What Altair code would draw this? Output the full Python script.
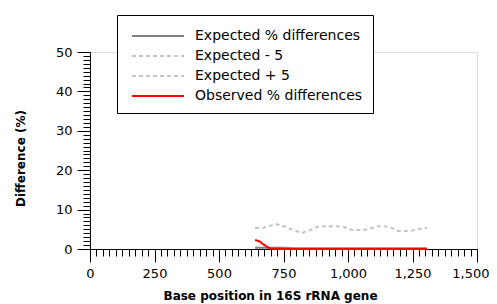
import altair as alt
import pandas as pd

series_names = ["Expected % differences", "Expected - 5", "Expected + 5", "Observed % differences"]
series_colors = ["#808080", "#c4c4c4", "#c4c4c4", "#ff0000"]
series_dash = [[1, 0], [4, 3], [4, 3], [1, 0]]

pos = [640, 667, 690, 725, 756, 787, 822, 853, 884, 922, 977, 1019, 1058, 1093, 1116, 1143, 1171, 1194, 1240, 1291, 1306]
expected = [0.3, 0.3, 0.3, 0.3, 0.3, 0.2, 0.2, 0.2, 0.2, 0.2, 0.2, 0.2, 0.2, 0.2, 0.2, 0.2, 0.2, 0.2, 0.2, 0.2, 0.2]
expected_minus5 = [-4.7, -4.7, -4.2, -3.7, -4.3, -5.2, -5.9, -5.2, -4.3, -4.2, -4.3, -5.2, -5.2, -4.7, -4.2, -4.2, -4.7, -5.4, -5.4, -4.7, -4.7]
expected_plus5 = [5.3, 5.3, 5.8, 6.3, 5.7, 4.8, 4.1, 4.8, 5.7, 5.8, 5.7, 4.8, 4.8, 5.3, 5.8, 5.8, 5.3, 4.6, 4.6, 5.3, 5.3]

obs_pos = [640, 659, 671, 686, 698, 750, 1000, 1250, 1306]
observed = [2.3, 1.85, 1.2, 0.6, 0.1, 0.0, 0.0, 0.0, 0.0]

x_major = [0, 250, 500, 750, 1000, 1250, 1500]
y_major = [0, 10, 20, 30, 40, 50]
x_minor = list(range(0, 1501, 25))
y_minor = list(range(0, 51, 1))

rows = []
for p, v in zip(pos, expected):
    rows.append({"pos": p, "val": v, "series": series_names[0]})
for p, v in zip(pos, expected_plus5):
    rows.append({"pos": p, "val": v, "series": series_names[2]})
for p, v in zip(obs_pos, observed):
    rows.append({"pos": p, "val": v, "series": series_names[3]})
df_main = pd.DataFrame(rows)
df_minus = pd.DataFrame({"pos": pos, "val": expected_minus5, "series": series_names[1]})

FONT = "DejaVu Sans"
LABEL_SIZE = 13

xscale = alt.Scale(domain=[0, 1500], nice=False, zero=False)
yscale = alt.Scale(domain=[0, 50], nice=False)
color_scale = alt.Scale(domain=series_names, range=series_colors)
dash_scale = alt.Scale(domain=series_names, range=series_dash)

legend = alt.Legend(
    orient="none", legendX=27, legendY=-37, title=None,
    symbolType="M-0.6,0H4.6", symbolSize=400, symbolStrokeWidth=2,
    labelOffset=46, padding=10, strokeColor="black", fillColor="white",
    labelFont=FONT, labelFontSize=14, labelColor="black", rowPadding=2,
    labelLimit=400,
)

# major x axis: "0" label is drawn by the minor axis so that the last label can be
# flush-adjusted and stay inside the page
major_x_axis = alt.Axis(
    orient="bottom", values=x_major, tickSize=13, tickColor="black",
    labelExpr="datum.value == 0 ? '' : format(datum.value, ',d')",
    labelFlush=True, labelFlushOffset=12,
    domainColor="black", labelFont=FONT, labelFontSize=LABEL_SIZE, labelColor="black",
    labelPadding=5, grid=False, title="Base position in 16S rRNA gene",
    titleFont=FONT, titleFontSize=12, titleFontWeight="bold", titleColor="black",
    titleBaseline="alphabetic", titleX=180, titleY=50,
)
major_y_axis = alt.Axis(
    orient="left", values=y_major, tickSize=13, tickColor="black",
    domainColor="black", labelFont=FONT, labelFontSize=LABEL_SIZE, labelColor="black",
    labelPadding=5, grid=False, title="Difference (%)",
    titleFont=FONT, titleFontSize=12, titleFontWeight="bold", titleColor="black",
    titleBaseline="alphabetic", titleX=-66, titleY=106, titleAngle=-90,
)
minor_x_axis = alt.Axis(
    orient="bottom", values=x_minor, tickSize=7, tickColor="black",
    labelExpr="datum.value == 0 ? '0' : ''", labelFlush=False, labelOverlap=False,
    labelFont=FONT, labelFontSize=LABEL_SIZE, labelColor="black", labelPadding=11,
    domain=False, grid=False, title=None,
)
minor_y_axis = alt.Axis(
    orient="left", values=y_minor, tickSize=7, tickColor="black", labels=False,
    domain=False, grid=False, title=None,
)

main = alt.Chart(df_main).mark_line(strokeWidth=2).encode(
    x=alt.X("pos:Q", scale=xscale, axis=major_x_axis),
    y=alt.Y("val:Q", scale=yscale, axis=major_y_axis),
    color=alt.Color("series:N", scale=color_scale, legend=legend),
    strokeDash=alt.StrokeDash("series:N", scale=dash_scale, legend=legend),
    detail="series:N",
)

minus = alt.Chart(df_minus).mark_line(strokeWidth=2, clip=True).encode(
    x=alt.X("pos:Q", scale=xscale, axis=minor_x_axis),
    y=alt.Y("val:Q", scale=yscale, axis=minor_y_axis),
    color=alt.Color("series:N", scale=color_scale, legend=legend),
    strokeDash=alt.StrokeDash("series:N", scale=dash_scale, legend=legend),
)

chart = alt.layer(minus, main).resolve_axis(x="independent", y="independent").properties(
    width=387, height=197,
    padding={"left": 82, "top": 44, "right": 12, "bottom": 55},
    autosize="none",
).configure_view(stroke=None).configure(background="white")

chart.save("out.html", embed_options={"renderer": "svg", "actions": False})
